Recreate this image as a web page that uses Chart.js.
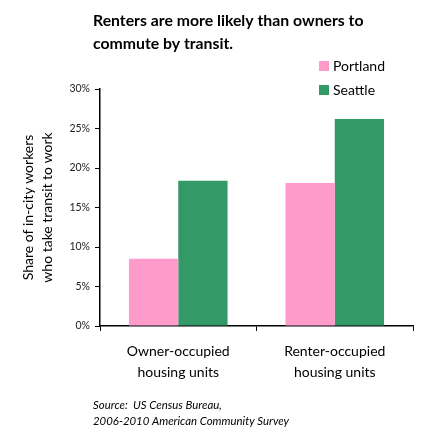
<!DOCTYPE html>
<html><head><meta charset="utf-8">
<script src="https://cdn.jsdelivr.net/npm/chart.js@4"></script>
<style>html,body{margin:0;padding:0;background:#fff;}#wrap{width:435px;height:438px;position:relative;}</style>
</head><body><div id="wrap"><canvas id="c" width="435" height="438"></canvas></div>
<script>
const categories = [["Owner-occupied","housing units"],["Renter-occupied","housing units"]];
const seriesNames = ["Portland","Seattle"];
const portland = [8.5, 18.1];
const seattle = [18.4, 26.2];
const yTicks = [0,5,10,15,20,25,30];
const titleLines = ["Renters are more likely than owners to","commute by transit."];
const sourceLines = ["Source:  US Census Bureau,","2006-2010 American Community Survey"];
const colors = ["#FF9BCB","#339966"];
const FONT = "Lato, 'Open Sans', sans-serif";

const decor = {
  id:'decor',
  afterDraw(chart){
    const ctx = chart.ctx;
    ctx.save();
    ctx.fillStyle = '#000';
    ctx.textBaseline = 'middle';
    ctx.textAlign = 'left';
    ctx.font = "bold 15.8px " + FONT;
    ctx.fillText(titleLines[0], 93, 21);
    ctx.fillText(titleLines[1], 93, 44);
    // legend
    ctx.font = "14px " + FONT;
    chart.data.datasets.forEach((ds,i)=>{
      const y = 66 + i*24;
      ctx.fillStyle = ds.backgroundColor;
      ctx.fillRect(319, y-5, 10, 10);
      ctx.fillStyle = '#000';
      ctx.fillText(ds.label, 333, y);
    });
    ctx.font = "italic 11.4px " + FONT;
    ctx.fillText(sourceLines[0], 93, 405);
    ctx.fillText(sourceLines[1], 93, 421);
    ctx.restore();
  }
};

new Chart(document.getElementById('c'), {
  type:'bar',
  data:{
    labels: categories,
    datasets:[
      {label: seriesNames[0], data: portland, backgroundColor: colors[0]},
      {label: seriesNames[1], data: seattle, backgroundColor: colors[1]}
    ]
  },
  options:{
    responsive:false,
    animation:false,
    devicePixelRatio:1,
    layout:{padding:{left:0,right:22,top:89,bottom:0}},
    plugins:{legend:{display:false},tooltip:{enabled:false},title:{display:false}},
    categoryPercentage:0.63,
    barPercentage:1.0,
    scales:{
      x:{
        grid:{display:true,drawOnChartArea:false,drawTicks:true,tickLength:5,color:'#000',offset:true},
        border:{display:true,color:'#000',width:1.5},
        ticks:{color:'#000',font:{family:FONT,size:14,lineHeight:1.5},padding:10,maxRotation:0},
        afterFit(s){ s.height = 112; }
      },
      y:{
        min:0,max:30,
        afterBuildTicks(s){ s.ticks = yTicks.map(v=>({value:v})); },
        grid:{display:true,drawOnChartArea:false,drawTicks:true,tickLength:5,color:'#000'},
        border:{display:true,color:'#000',width:1.5},
        ticks:{color:'#222',font:{family:FONT,size:10.5},padding:5,callback:v=>v+'%'},
        title:{display:true,text:["Share of in-city workers","who take transit to work"],color:'#000',font:{family:FONT,size:14,lineHeight:1.36},padding:{top:19,bottom:6}},
        afterFit(s){ s.width = 100; }
      }
    }
  },
  plugins:[decor]
});
</script></body></html>
